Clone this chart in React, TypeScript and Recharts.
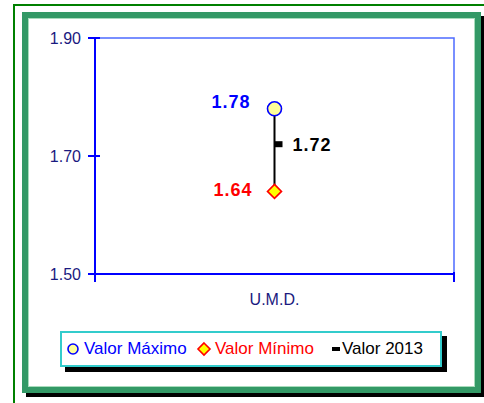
import React from 'react';
import { ComposedChart, ReferenceArea, Scatter, XAxis, YAxis } from 'recharts';

const categories = ['U.M.D.'];
const valorMaximo = [1.78];
const valorMinimo = [1.64];
const valor2013 = [1.72];
const yTicks = [1.5, 1.7, 1.9];

const FONT = '"Liberation Sans", Arial, sans-serif';
const AXIS_BLUE = '#0000ff';
const LABEL_NAVY = '#1a1a80';

const rows = categories.map((name, i) => ({
  name,
  x: i + 0.5,
  max: valorMaximo[i],
  min: valorMinimo[i],
  val: valor2013[i]
}));

// high-low line: min and max of each category joined
const rangeRows = categories.flatMap((_, i) => [
  { x: i + 0.5, y: valorMinimo[i] },
  { x: i + 0.5, y: valorMaximo[i] }
]);

const xTicks = categories.flatMap((_, i) => [i, i + 0.5]).concat(categories.length);

const XTick = (props: any) => {
  const { x, y, payload } = props;
  const v = payload.value;
  if (Number.isInteger(v)) {
    return <line x1={x} x2={x} y1={y - 2} y2={y + 8} stroke={AXIS_BLUE} strokeWidth={2} />;
  }
  return (
    <text x={x} y={y + 31} textAnchor="middle" fontSize={16} fill={LABEL_NAVY} fontFamily={FONT}>
      {categories[Math.floor(v)]}
    </text>
  );
};

const YTick = (props: any) => {
  const { x, y, payload } = props;
  return (
    <g>
      <line x1={x - 7} x2={x + 5} y1={y} y2={y} stroke={AXIS_BLUE} strokeWidth={2} />
      <text x={x - 14} y={y} dy="0.35em" textAnchor="end" fontSize={16} fill={LABEL_NAVY} fontFamily={FONT}>
        {Number(payload.value).toFixed(2)}
      </text>
    </g>
  );
};

const labelStyle = { fontSize: 18, fontWeight: 700, fontFamily: FONT, letterSpacing: 1 };

const MaxShape = (props: any) => {
  const { cx, cy, payload } = props;
  return (
    <g>
      <circle cx={cx} cy={cy} r={7} fill="#ffff99" stroke="#0000ff" strokeWidth={1.6} />
      <text x={cx - 24} y={cy - 7} dy="0.35em" textAnchor="end" fill="#0000ff" style={labelStyle}>
        {payload.max.toFixed(2)}
      </text>
    </g>
  );
};

const MinShape = (props: any) => {
  const { cx, cy, payload } = props;
  const d = 7;
  return (
    <g>
      <polygon
        points={`${cx},${cy - d} ${cx + d},${cy} ${cx},${cy + d} ${cx - d},${cy}`}
        fill="#ffff00"
        stroke="#ff0000"
        strokeWidth={1.6}
      />
      <text x={cx - 22} y={cy - 2} dy="0.35em" textAnchor="end" fill="#ff0000" style={labelStyle}>
        {payload.min.toFixed(2)}
      </text>
    </g>
  );
};

const ValShape = (props: any) => {
  const { cx, cy, payload } = props;
  return (
    <g>
      <rect x={cx} y={cy - 3} width={8} height={6} fill="#000" />
      <text x={cx + 18} y={cy} dy="0.35em" textAnchor="start" fill="#000" style={labelStyle}>
        {payload.val.toFixed(2)}
      </text>
    </g>
  );
};

const NoShape = () => <g />;

const legendItems = [
  { name: 'Valor Máximo', color: '#0000ff', left: 84 },
  { name: 'Valor Mínimo', color: '#ff0000', left: 215 },
  { name: 'Valor 2013', color: '#000', left: 342 }
];

const LegendBox = () => (
  <div
    style={{
      position: 'absolute',
      left: 60,
      top: 331,
      width: 382,
      height: 36,
      boxSizing: 'border-box',
      border: '2px solid #33cccc',
      background: '#fff',
      boxShadow: '5px 5px 0 #000',
      fontFamily: FONT,
      fontSize: 17
    }}
  >
    <svg width={382} height={36} style={{ position: 'absolute', left: -2, top: -2 }}>
      <circle cx={13} cy={18} r={5} fill="#ffff99" stroke="#0000ff" strokeWidth={1.6} />
      <polygon points="144,12 150,18 144,24 138,18" fill="#ffff00" stroke="#ff0000" strokeWidth={1.6} />
      <rect x={272} y={16} width={8} height={4} fill="#000" />
    </svg>
    {legendItems.map((it) => (
      <span
        key={it.name}
        style={{ position: 'absolute', left: it.left - 62, top: 6, color: it.color, whiteSpace: 'nowrap' }}
      >
        {it.name}
      </span>
    ))}
  </div>
);

export default function App() {
  return (
    <div
      style={{
        position: 'absolute',
        left: 0,
        top: 0,
        width: 484,
        height: 403,
        overflow: 'hidden',
        background: '#fff'
      }}
    >
      <div
        style={{
          position: 'absolute',
          left: 13,
          top: 4,
          width: 500,
          height: 420,
          border: '2px solid #008000'
        }}
      />
      <div
        style={{
          position: 'absolute',
          left: 22,
          top: 12,
          width: 459,
          height: 381,
          boxSizing: 'border-box',
          border: '6px solid #339966',
          background: '#fff',
          boxShadow: '4px 4px 0 #000, inset 0 0 0 1px #a8dcbc'
        }}
      />
      <div style={{ position: 'absolute', left: 0, top: 0 }}>
        <ComposedChart
          width={484}
          height={403}
          data={rows}
          margin={{ top: 38, right: 30, bottom: 99, left: 35 }}
        >
          <ReferenceArea
            x1={0}
            x2={categories.length}
            y1={yTicks[0]}
            y2={yTicks[yTicks.length - 1]}
            fill="none"
            stroke="#4d6bff"
            strokeWidth={1.5}
          />
          <XAxis
            type="number"
            dataKey="x"
            domain={[0, categories.length]}
            ticks={xTicks}
            interval={0}
            height={30}
            tickSize={0}
            tickMargin={0}
            tickLine={false}
            axisLine={{ stroke: AXIS_BLUE, strokeWidth: 2 }}
            tick={<XTick />}
          />
          <YAxis
            type="number"
            domain={[yTicks[0], yTicks[yTicks.length - 1]]}
            ticks={yTicks}
            interval={0}
            width={60}
            tickSize={0}
            tickMargin={0}
            tickLine={false}
            allowDataOverflow
            axisLine={{ stroke: AXIS_BLUE, strokeWidth: 2 }}
            tick={<YTick />}
          />
          <Scatter
            data={rangeRows}
            dataKey="y"
            line={{ stroke: '#000', strokeWidth: 2 }}
            shape={<NoShape />}
            isAnimationActive={false}
          />
          <Scatter dataKey="val" shape={<ValShape />} isAnimationActive={false} />
          <Scatter dataKey="min" shape={<MinShape />} isAnimationActive={false} />
          <Scatter dataKey="max" shape={<MaxShape />} isAnimationActive={false} />
        </ComposedChart>
      </div>
      <LegendBox />
    </div>
  );
}
